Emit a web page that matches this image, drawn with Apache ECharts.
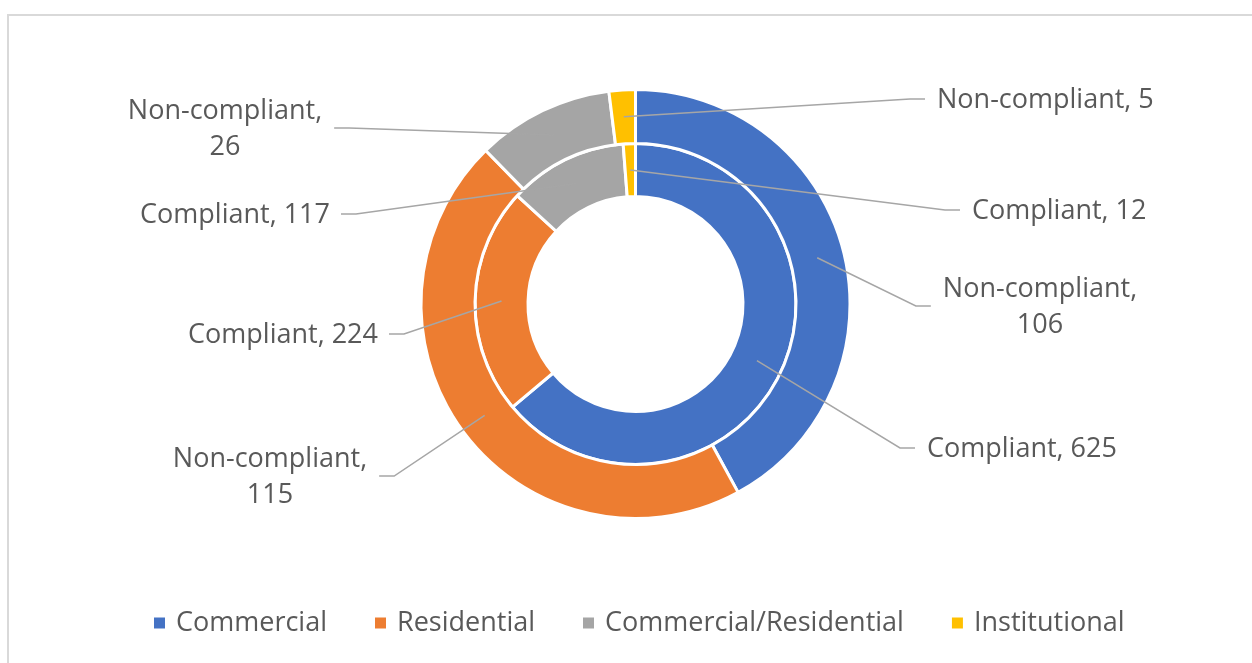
<!DOCTYPE html>
<html>
<head>
<meta charset="utf-8">
<title>Compliance by building type</title>
<script src="https://cdn.jsdelivr.net/npm/echarts@6/dist/echarts.min.js"></script>
<style>
  html, body { margin: 0; padding: 0; background: #fff; overflow: hidden; }
  #chart { width: 1252px; height: 663px; }
</style>
</head>
<body>
<div id="chart"></div>
<script>
// values
const categories = ['Commercial', 'Residential', 'Commercial/Residential', 'Institutional']
const compliant = [625, 224, 117, 12]
const nonCompliant = [106, 115, 26, 5]

const palette = ['#4472C4', '#ED7D31', '#A5A5A5', '#FFC000']
const textColor = '#595959'
const fontFamily = '"Open Sans", "Noto Sans", sans-serif'

const center = [635.5, 304]
const innerRadius = [107.5, 160.5]
const outerRadius = [160.5, 214.5]

// where the excel style data labels sit (text anchor)
const compliantSpots = [
  { x: 927, y: 449, align: 'left' },
  { x: 378, y: 335, align: 'right' },
  { x: 330, y: 215, align: 'right' },
  { x: 972, y: 211, align: 'left' }
]
const nonCompliantSpots = [
  { x: 1040, y: 307, align: 'center', wrap: true },
  { x: 270, y: 477, align: 'center', wrap: true },
  { x: 225, y: 129, align: 'center', wrap: true },
  { x: 937, y: 100, align: 'left' }
]

// leader line starts in the middle of the ring at the slice mid angle
function makeLabelLayout(values, radius, spots) {
  const total = values.reduce((a, b) => a + b, 0)
  const rMid = (radius[0] + radius[1]) / 2
  return function (params) {
    const i = params.dataIndex
    const spot = spots[i]
    let before = 0
    for (let k = 0; k < i; k++) before += values[k]
    const angle = (before + values[i] / 2) / total * Math.PI * 2
    const start = [center[0] + rMid * Math.sin(angle), center[1] - rMid * Math.cos(angle)]
    const w = params.labelRect.width
    let edge, dir
    if (spot.align === 'left') { edge = spot.x - 12; dir = -1 }
    else if (spot.align === 'right') { edge = spot.x + 11; dir = 1 }
    else if (spot.x > center[0]) { edge = spot.x - w / 2 - 12; dir = -1 }
    else { edge = spot.x + w / 2 + 12; dir = 1 }
    const ly = spot.y - 1
    return {
      x: spot.x,
      y: spot.y,
      align: spot.align,
      verticalAlign: 'middle',
      labelLinePoints: [start, [edge + dir * 15, ly], [edge, ly]]
    }
  }
}

function ringSeries(name, values, radius) {
  return {
    name: name,
    type: 'pie',
    z: 2,
    center: center,
    radius: radius,
    startAngle: 90,
    clockwise: true,
    data: categories.map((c, i) => ({ name: c, value: values[i] })),
    itemStyle: { borderColor: '#fff', borderWidth: 3 },
    label: { show: false },
    labelLine: { show: false },
    emphasis: { disabled: true }
  }
}

// same ring again, see-through, only to carry labels and leader lines above the slices
function labelSeries(name, values, radius, spots) {
  return {
    name: name,
    type: 'pie',
    z: 3,
    silent: true,
    center: center,
    radius: radius,
    startAngle: 90,
    clockwise: true,
    avoidLabelOverlap: false,
    data: categories.map((c, i) => ({ name: c, value: values[i] })),
    itemStyle: { color: 'rgba(0,0,0,0)', borderWidth: 0 },
    label: {
      show: true,
      position: 'outside',
      color: textColor,
      fontFamily: fontFamily,
      fontSize: 27,
      lineHeight: 36,
      formatter: p => p.seriesName + ',' + (spots[p.dataIndex].wrap ? '\n' : ' ') + p.value
    },
    labelLine: {
      show: true,
      lineStyle: { color: '#a6a6a6', width: 1.5, opacity: 1 }
    },
    labelLayout: makeLabelLayout(values, radius, spots),
    emphasis: { disabled: true }
  }
}

const chart = echarts.init(document.getElementById('chart'))

chart.setOption({
  animation: false,
  color: palette,
  graphic: [
    {
      type: 'rect',
      silent: true,
      z: -1,
      shape: { x: 8, y: 15, width: 1400, height: 800 },
      style: { fill: 'none', stroke: '#d9d9d9', lineWidth: 2 }
    }
  ],
  legend: {
    data: categories,
    left: 152,
    top: 606,
    padding: 0,
    icon: 'rect',
    itemWidth: 13,
    itemHeight: 13,
    itemGap: 46,
    textStyle: {
      color: textColor,
      fontFamily: fontFamily,
      fontSize: 27,
      lineHeight: 34,
      padding: [0, 0, 0, 5]
    }
  },
  series: [
    ringSeries('Compliant', compliant, innerRadius),
    ringSeries('Non-compliant', nonCompliant, outerRadius),
    labelSeries('Compliant', compliant, innerRadius, compliantSpots),
    labelSeries('Non-compliant', nonCompliant, outerRadius, nonCompliantSpots)
  ]
})

window.addEventListener('resize', () => chart.resize())
</script>
</body>
</html>
